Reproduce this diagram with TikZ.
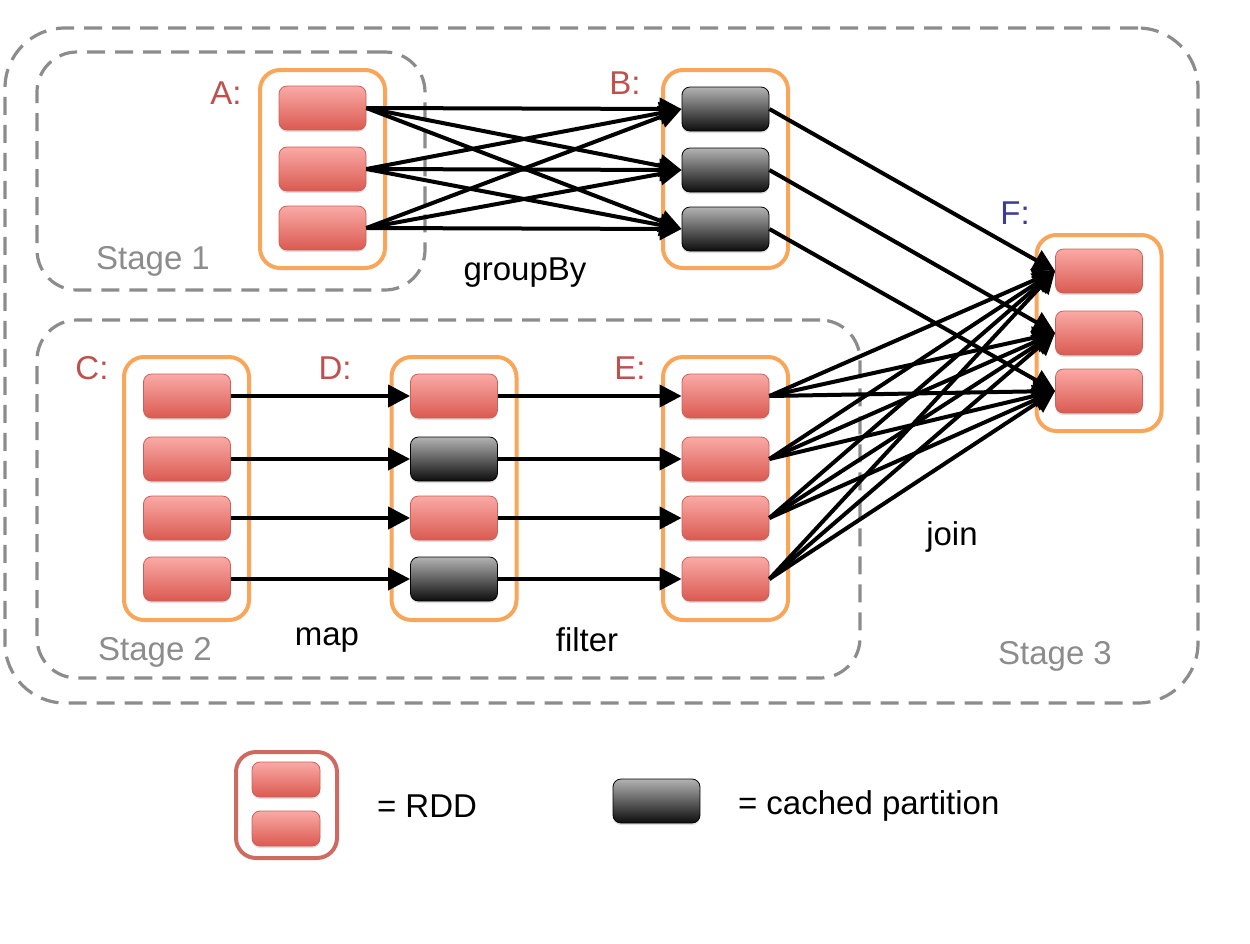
\documentclass[tikz,border=0pt]{standalone}
\usepackage{fontspec}
\setmainfont{Liberation Sans}
\usetikzlibrary{positioning, shapes, arrows.meta, shadows}
\definecolor{rddOrange}{HTML}{F9A65A}
\definecolor{rddRed}{HTML}{C0504D}
\definecolor{rddBlue}{HTML}{3B3B98}
\definecolor{stageGray}{HTML}{8C8C8C}
\definecolor{legendRed}{HTML}{CF6A63}
\definecolor{partTop}{HTML}{FAAAA6}
\definecolor{partBottom}{HTML}{DA5A51}
\definecolor{partBorder}{HTML}{CC5F58}
\tikzstyle{partition}=[draw=partBorder,rounded corners=4pt,minimum width=43.5pt,minimum height=22pt,inner sep=0pt,top color=partTop,bottom color=partBottom,drop shadow={shadow xshift=0pt,shadow yshift=-1pt,opacity=0.25}]
\tikzstyle{cached}=[partition,draw=black,top color=gray!60,bottom color=black!95]
\tikzstyle{rddBox}=[draw=rddOrange,line width=2pt,rounded corners=10pt,minimum width=62.5pt,inner sep=0pt]
\tikzstyle{stageBox}=[draw=stageGray,line width=1.6pt,dash pattern=on 9pt off 5pt,inner sep=0pt]
\tikzstyle{rddLabel}=[text=rddRed,font=\fontsize{16.5}{18}\selectfont]
\tikzstyle{stageLabel}=[text=stageGray,font=\fontsize{16.5}{18}\selectfont]
\tikzstyle{opLabel}=[font=\fontsize{16.5}{18}\selectfont]
\tikzstyle{dependency}=[-{Triangle[length=11pt,width=11pt]}, line width=2pt]

\begin{document}
\begin{tikzpicture}[x=0.5pt,y=-0.5pt]
        \useasboundingbox (0,0) rectangle (1250,944);

        % stages
        \node[stageBox, rounded corners=30pt, minimum width=596.5pt, minimum height=337.5pt] (s3) at (601.5, 365.5) {};
        \node[stageBox, rounded corners=20pt, minimum width=194pt, minimum height=119pt] (s1) at (231, 171) {};
        \node[stageBox, rounded corners=20pt, minimum width=411.5pt, minimum height=179pt] (s2) at (448.5, 499) {};

        \node[stageLabel] (ls1) at (153, 261) {Stage 1};
        \node[stageLabel] (ls2) at (155, 652) {Stage 2};
        \node[stageLabel] (ls3) at (1055, 656) {Stage 3};

        % rdds
        \node[rddBox, minimum height=99pt] (rA) at (322.5, 169) {};
        \node[rddBox, minimum height=99pt] (rB) at (725.5, 169) {};
        \node[rddBox, minimum height=98pt] (rF) at (1099, 333) {};
        \node[rddBox, minimum height=131.5pt] (rC) at (186.5, 488.5) {};
        \node[rddBox, minimum height=131.5pt] (rD) at (454, 488.5) {};
        \node[rddBox, minimum height=131.5pt] (rE) at (725.5, 488.5) {};

        \node[partition] (a1) at (322.5, 108) {};
        \node[partition] (a2) at (322.5, 169) {};
        \node[partition] (a3) at (322.5, 228) {};

        \node[cached] (b1) at (725.5, 109) {};
        \node[cached] (b2) at (725.5, 170) {};
        \node[cached] (b3) at (725.5, 229) {};

        \node[partition] (f1) at (1099, 271) {};
        \node[partition] (f2) at (1099, 333) {};
        \node[partition] (f3) at (1099, 391) {};

        \node[partition] (c1) at (187, 396) {};
        \node[partition] (c2) at (187, 459) {};
        \node[partition] (c3) at (187, 518) {};
        \node[partition] (c4) at (187, 579) {};

        \node[partition] (d1) at (454, 396) {};
        \node[cached] (d2) at (454, 459) {};
        \node[partition] (d3) at (454, 518) {};
        \node[cached] (d4) at (454, 579) {};

        \node[partition] (e1) at (725.5, 396) {};
        \node[partition] (e2) at (725.5, 459) {};
        \node[partition] (e3) at (725.5, 518) {};
        \node[partition] (e4) at (725.5, 579) {};

        \node[rddLabel] (lA) at (226, 93) {A:};
        \node[rddLabel] (lB) at (625, 83) {B:};
        \node[rddLabel, text=rddBlue] (lF) at (1015, 213) {F:};
        \node[rddLabel] (lC) at (92, 368) {C:};
        \node[rddLabel] (lD) at (335, 368) {D:};
        \node[rddLabel] (lE) at (630, 368) {E:};

        % groupBy
        \draw[dependency] (a1.east) -- (b1.west);
        \draw[dependency] (a1.east) -- (b2.west);
        \draw[dependency] (a1.east) -- (b3.west);
        \draw[dependency] (a2.east) -- (b1.west);
        \draw[dependency] (a2.east) -- (b2.west);
        \draw[dependency] (a2.east) -- (b3.west);
        \draw[dependency] (a3.east) -- (b1.west);
        \draw[dependency] (a3.east) -- (b2.west);
        \draw[dependency] (a3.east) -- (b3.west);

        % map, filter
        \draw[dependency] (c1.east) -- (d1.west);
        \draw[dependency] (c2.east) -- (d2.west);
        \draw[dependency] (c3.east) -- (d3.west);
        \draw[dependency] (c4.east) -- (d4.west);

        \draw[dependency] (d1.east) -- (e1.west);
        \draw[dependency] (d2.east) -- (e2.west);
        \draw[dependency] (d3.east) -- (e3.west);
        \draw[dependency] (d4.east) -- (e4.west);

        % join
        \draw[dependency] (b1.east) -- (f1.west);
        \draw[dependency] (b2.east) -- (f2.west);
        \draw[dependency] (b3.east) -- (f3.west);

        \draw[dependency] (e1.east) -- (f1.west);
        \draw[dependency] (e1.east) -- (f2.west);
        \draw[dependency] (e1.east) -- (f3.west);
        \draw[dependency] (e2.east) -- (f1.west);
        \draw[dependency] (e2.east) -- (f2.west);
        \draw[dependency] (e2.east) -- (f3.west);
        \draw[dependency] (e3.east) -- (f1.west);
        \draw[dependency] (e3.east) -- (f2.west);
        \draw[dependency] (e3.east) -- (f3.west);
        \draw[dependency] (e4.east) -- (f1.west);
        \draw[dependency] (e4.east) -- (f2.west);
        \draw[dependency] (e4.east) -- (f3.west);

        \node[opLabel] (o1) at (525, 273) {groupBy};
        \node[opLabel] (o2) at (327, 640) {map};
        \node[opLabel] (o3) at (587, 640) {filter};
        \node[opLabel] (o4) at (952, 537) {join};

        % legend
        \node[rddBox, draw=legendRed, minimum width=50.5pt, minimum height=53pt] (k1) at (286.5, 805) {};
        \node[partition, minimum width=34pt, minimum height=17.5pt] (k2) at (286, 779.5) {};
        \node[partition, minimum width=34pt, minimum height=17.5pt] (k3) at (286, 828.5) {};
        \node[cached] (k4) at (656.5, 801) {};

        \node[opLabel, anchor=west] (k5) at (370, 806) {= RDD};
        \node[opLabel, anchor=west] (k6) at (731, 806) {= cached partition};
\end{tikzpicture}
\end{document}
